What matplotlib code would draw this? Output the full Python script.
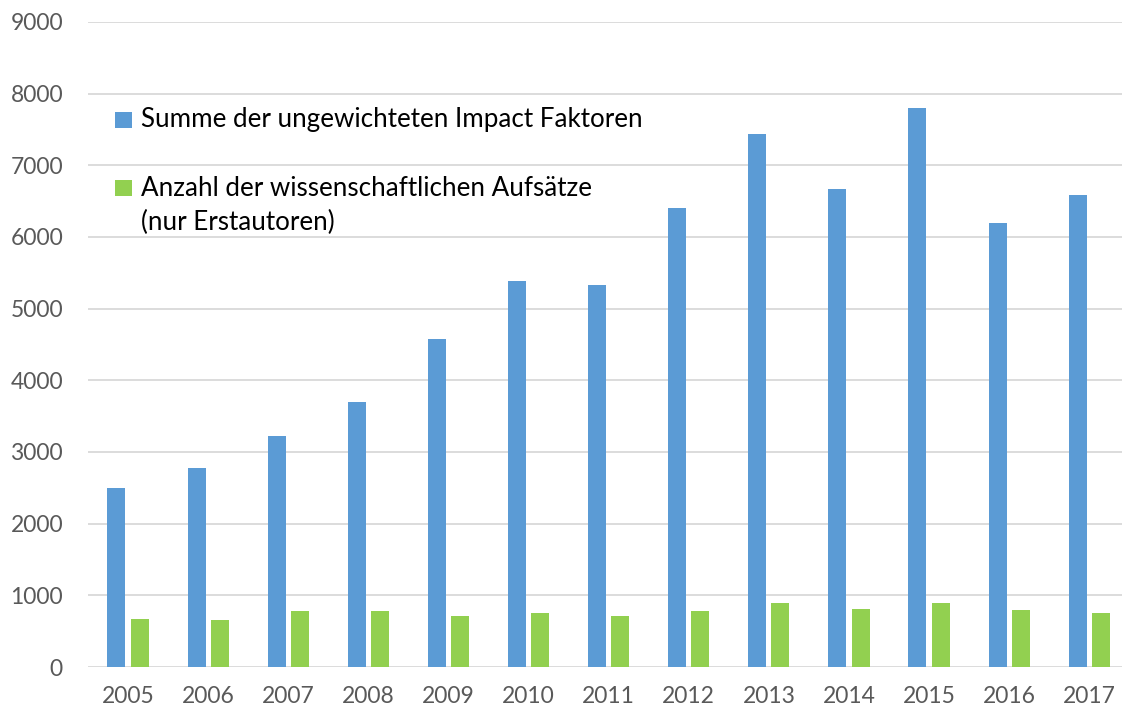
import numpy as np
import matplotlib
matplotlib.use("Agg")
import matplotlib.pyplot as plt
from matplotlib.patches import Rectangle

# ==========================================================
# DATA
# ==========================================================

years = ["2005", "2006", "2007", "2008", "2009", "2010", "2011",
         "2012", "2013", "2014", "2015", "2016", "2017"]

impact_sum = [2500, 2780, 3230, 3700, 4580, 5390, 5330,
              6400, 7440, 6670, 7800, 6200, 6580]

paper_count = [670, 660, 780, 780, 710, 760, 710,
               780, 900, 810, 900, 800, 760]

label_blue = "Summe der ungewichteten Impact Faktoren"
label_green_1 = "Anzahl der wissenschaftlichen Aufsätze"
label_green_2 = "(nur Erstautoren)"

blue = "#5B9BD5"
green = "#92D050"
tick_gray = "#595959"

plt.rcParams["font.family"] = ["Lato", "DejaVu Sans"]

W, H = 1124, 713
fig = plt.figure(figsize=(W / 100, H / 100), dpi=100)

# axes placed in pixel coordinates
left, right, top, bottom = 88, 1122, 22, 667
ax = fig.add_axes([left / W, 1 - bottom / H, (right - left) / W, (bottom - top) / H])

x = np.arange(len(years))
width = 0.225

ax.bar(x - 0.145, impact_sum, width, color=blue, zorder=3)
ax.bar(x + 0.145, paper_count, width, color=green, zorder=3)

ax.set_ylim(0, 9000)
ax.set_xlim(-0.5, -0.5 + (right - left) / 80.1)
ax.set_yticks(np.arange(0, 9001, 1000))
ax.set_xticks(x)
ax.set_xticklabels(years)

ax.grid(axis="y", color="#D9D9D9", linewidth=1.3, zorder=0)
for s in ax.spines.values():
    s.set_visible(False)

ax.tick_params(axis="both", length=0, labelsize=16.5, labelcolor=tick_gray)
ax.tick_params(axis="y", pad=18)
ax.tick_params(axis="x", pad=14)

# ==========================================================
# LEGEND (drawn by hand so the square sits on the first line)
# ==========================================================

def px(xp, yp):
    return xp / W, 1 - yp / H

entries = [
    (blue, 120, [label_blue]),
    (green, 188, [label_green_1, label_green_2]),
]

for color, yc, lines in entries:
    sx, sy = px(115, yc + 8)
    fig.patches.append(Rectangle((sx, sy), 17 / W, 16 / H,
                                 transform=fig.transFigure,
                                 facecolor=color, edgecolor="none"))
    for k, line in enumerate(lines):
        tx, ty = px(141, yc + 34 * k)
        fig.text(tx, ty, line, fontsize=18.7, color="black",
                 ha="left", va="center")

fig.savefig("out.png", dpi=100)
